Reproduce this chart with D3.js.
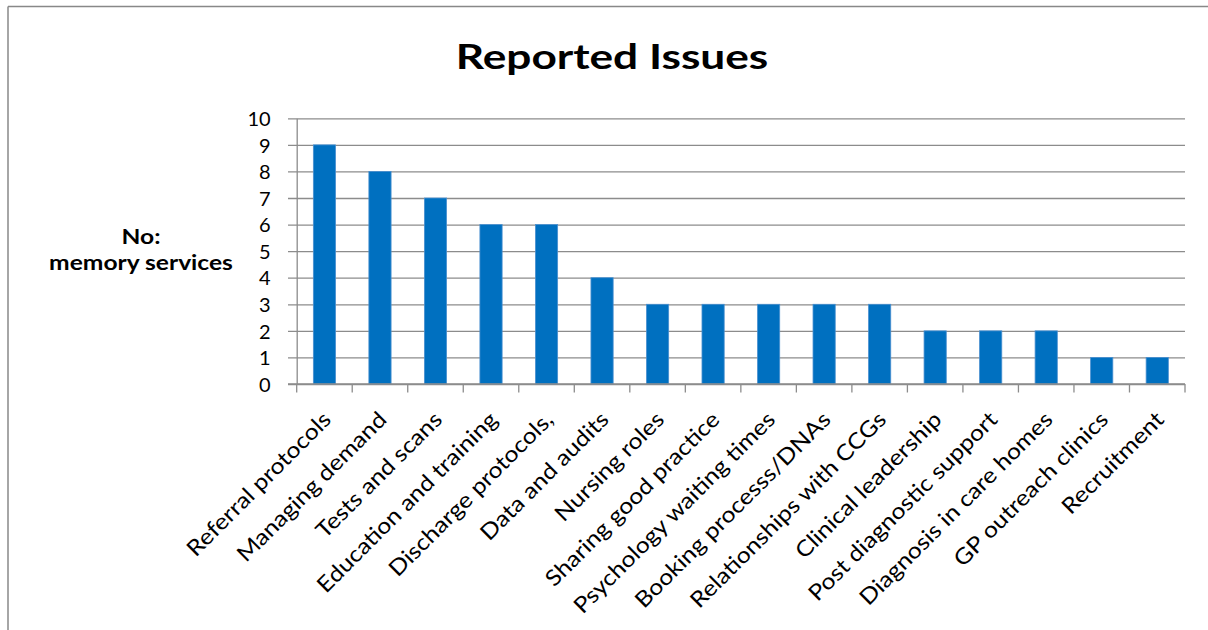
<!DOCTYPE html>
<html><head><meta charset="utf-8">
<script src="https://cdn.jsdelivr.net/npm/d3@7"></script>
<style>
html,body{margin:0;padding:0;background:#fff;}
svg{display:block;}
text{font-family:Lato,"Liberation Sans",sans-serif;fill:#000;}
</style></head>
<body>
<svg id="chart" width="1208" height="630"></svg>
<script>
const categories = ["Referral protocols","Managing demand","Tests and scans","Education and training","Discharge protocols,","Data and audits","Nursing roles","Sharing good practice","Psychology waiting times","Booking processs/DNAs","Relationships with CCGs","Clinical leadership","Post diagnostic support","Diagnosis in care homes","GP outreach clinics","Recruitment"];
const values = [9,8,7,6,6,4,3,3,3,3,3,2,2,2,1,1];
const yTicks = [0,1,2,3,4,5,6,7,8,9,10];
const titleText = "Reported Issues";
const yLabelLines = ["No:","memory services"];

(function(){
const svg = d3.select("#chart");
const gridColor = "#8c8c8c";
const pLeft = 296.7, pRight = 1185, pTop = 118.3, pBottom = 384;

// chart border (top and left)
svg.append("line").attr("x1",8).attr("x2",1208).attr("y1",6.5).attr("y2",6.5).attr("stroke","#888").attr("stroke-width",1.5);
svg.append("line").attr("x1",8).attr("x2",8).attr("y1",6.5).attr("y2",630).attr("stroke","#888").attr("stroke-width",1.5);

const x = d3.scaleBand().domain(categories).range([pLeft,pRight]).paddingInner(0.6).paddingOuter(0.3);
const y = d3.scaleLinear().domain([0,10]).range([pBottom,pTop]);

// gridlines + y axis
const yAxis = d3.axisLeft(y).tickValues(yTicks).tickSize(-(pRight-pLeft)).tickSizeOuter(0).tickPadding(0);
const gy = svg.append("g").attr("transform",`translate(${pLeft},0)`).call(yAxis);
gy.select(".domain").attr("stroke",gridColor).attr("stroke-width",1.3);
gy.selectAll(".tick line").attr("stroke",gridColor).attr("stroke-width",1.3).attr("x1",-8.7);
gy.selectAll(".tick text").attr("x",-26).attr("dy","0.36em").style("font-size","20px").style("font-family","Lato, 'Liberation Sans', sans-serif").attr("fill","#000");

// bars
svg.append("g").selectAll("rect").data(values).join("rect")
  .attr("x",(d,i)=>x(categories[i]))
  .attr("width",x.bandwidth())
  .attr("y",d=>y(d))
  .attr("height",d=>y(0)-y(d))
  .attr("fill","#0070C0")
  .attr("stroke","#4a90d0").attr("stroke-width",0.8);

// x axis baseline and ticks at band boundaries
svg.append("line").attr("x1",pLeft-8.7).attr("x2",pRight).attr("y1",pBottom).attr("y2",pBottom).attr("stroke",gridColor).attr("stroke-width",1.3);
const bounds = d3.range(categories.length+1).map(i=>pLeft + i*x.step());
svg.append("g").selectAll("line").data(bounds).join("line")
  .attr("x1",d=>d).attr("x2",d=>d).attr("y1",pBottom).attr("y2",pBottom+8.5)
  .attr("stroke",gridColor).attr("stroke-width",1.3);

// category labels
svg.append("g").selectAll("text").data(categories).join("text")
  .attr("transform",d=>`translate(${x(d)+x.bandwidth()/2+8},${pBottom+37}) rotate(-45) scale(1.13,1)`)
  .attr("text-anchor","end")
  .style("font-size","22px")
  .text(d=>d);

// title
svg.append("text").attr("transform","translate(612,69) scale(1.3,1)").attr("text-anchor","middle")
  .style("font-size","34px").style("font-weight","bold").text(titleText);

// y label
svg.append("text").attr("transform","translate(141,0) scale(1.23,1)").attr("text-anchor","middle").style("font-size","20px").style("font-weight","bold")
  .selectAll("tspan").data(yLabelLines).join("tspan")
  .attr("x",0).attr("y",(d,i)=>244+i*26).text(d=>d);
})();
</script>
</body></html>
